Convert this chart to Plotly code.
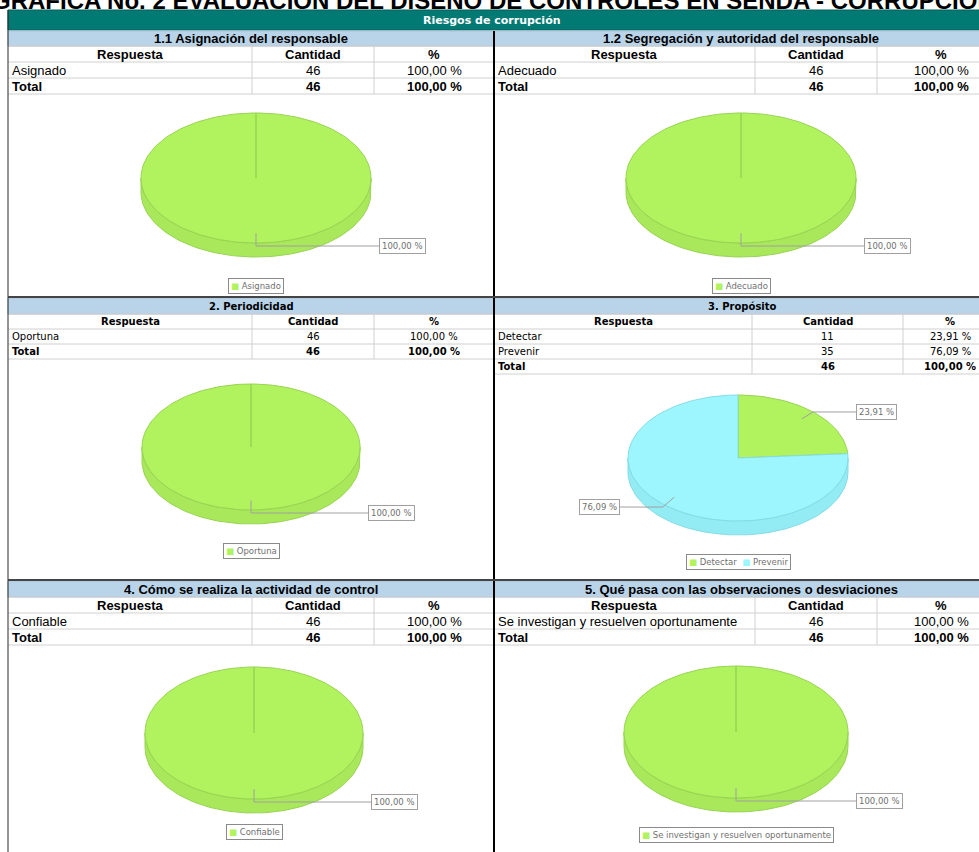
import numpy as np
import plotly.graph_objects as go

W, H = 979, 852

# ---------------- data ----------------
report_title = "GRÁFICA No. 2 EVALUACIÓN DEL DISEÑO DE CONTROLES EN SENDA - CORRUPCIÓN"
group_title = "Riesgos de corrupción"
column_headers = ["Respuesta", "Cantidad", "%"]
total_label = "Total"

title_1_1 = "1.1 Asignación del responsable"
answers_1_1 = ["Asignado"]
counts_1_1 = [46]

title_1_2 = "1.2 Segregación y autoridad del responsable"
answers_1_2 = ["Adecuado"]
counts_1_2 = [46]

title_2 = "2. Periodicidad"
answers_2 = ["Oportuna"]
counts_2 = [46]

title_3 = "3. Propósito"
answers_3 = ["Detectar", "Prevenir"]
counts_3 = [11, 35]

title_4 = "4. Cómo se realiza la actividad de control"
answers_4 = ["Confiable"]
counts_4 = [46]

title_5 = "5. Qué pasa con las observaciones o desviaciones"
answers_5 = ["Se investigan y resuelven oportunamente"]
counts_5 = [46]

# ---------------- styles / layout ----------------
TEAL = "#017A74"
BAND = "#B9D4E8"
GRID = "#D0D0D0"
BORDER = "#2A2A2A"
SLICE_TOP = ["#B1F25F", "#9DF6FD"]
SLICE_SIDE = ["#A8E85A", "#93ECF3"]
SLICE_EDGE = ["#98D452", "#84DCE4"]

FONT_A = dict(family="Liberation Sans, Arial, sans-serif", size=13)
FONT_B = dict(family="DejaVu Sans, Verdana, sans-serif", size=10)

LEFT_COLS = [8, 252, 374, 494]
RIGHT_COLS = [494, 755, 877, 1005]
ROW2R_COLS = [494, 752, 903, 997]

panels = [
    dict(title=title_1_1, answers=answers_1_1, counts=counts_1_1, cols=LEFT_COLS, tx=251,
         band=(31, 46), header=(46, 62), row_h=16, font=FONT_A,
         pie=(256, 178, 115, 65, 14), legend_y=286),
    dict(title=title_1_2, answers=answers_1_2, counts=counts_1_2, cols=RIGHT_COLS, tx=741,
         band=(31, 46), header=(46, 62), row_h=16, font=FONT_A,
         pie=(741, 178, 115, 65, 14), legend_y=286),
    dict(title=title_2, answers=answers_2, counts=counts_2, cols=LEFT_COLS, tx=251,
         band=(298, 314), header=(314, 329), row_h=15, font=FONT_B,
         pie=(251, 447, 109, 63, 14), legend_y=551),
    dict(title=title_3, answers=answers_3, counts=counts_3, cols=ROW2R_COLS, tx=742,
         band=(298, 314), header=(314, 329), row_h=15, font=FONT_B,
         pie=(738, 458, 110, 63, 14), legend_y=562),
    dict(title=title_4, answers=answers_4, counts=counts_4, cols=LEFT_COLS, tx=251,
         band=(581, 597), header=(597, 613), row_h=16, font=FONT_A,
         pie=(254, 733, 109, 66, 14), legend_y=832),
    dict(title=title_5, answers=answers_5, counts=counts_5, cols=RIGHT_COLS, tx=741,
         band=(581, 597), header=(597, 613), row_h=16, font=FONT_A,
         pie=(736, 732, 112, 66, 14), legend_y=835),
]

fig = go.Figure()
shapes = []
annotations = []


def rect(x0, y0, x1, y1, fill, lc=None, lw=0):
    shapes.append(dict(type="rect", xref="x", yref="y", x0=x0, y0=y0, x1=x1, y1=y1,
                       fillcolor=fill, line=dict(color=lc or fill, width=lw), layer="below"))


def line(x0, y0, x1, y1, color, w):
    shapes.append(dict(type="line", xref="x", yref="y", x0=x0, y0=y0, x1=x1, y1=y1,
                       line=dict(color=color, width=w)))


def text(x, y, s, font, xanchor="center", color="#000000", bold=False):
    annotations.append(dict(x=x, y=y, xref="x", yref="y", text=("<b>%s</b>" % s) if bold else s,
                            showarrow=False, xanchor=xanchor, yanchor="middle",
                            font=dict(family=font["family"], size=font["size"], color=color)))


def pct(v, tot):
    return ("%.2f" % (100.0 * v / tot)).replace(".", ",") + " %"


def arc(cx, cy, a, b, t0, t1):
    n = max(3, int(abs(t1 - t0) / 2) + 2)
    th = np.radians(np.linspace(t0, t1, n))
    return cx + a * np.cos(th), cy - b * np.sin(th)


# title (partly cut at the top, as in the reference)
annotations.append(dict(x=-10 / W, y=1.0 - 0.4 / H, xref="paper", yref="paper", text="<b>%s</b>" % report_title,
                        showarrow=False, xanchor="left", yanchor="middle",
                        font=dict(family="Liberation Sans, Arial, sans-serif", size=24, color="#000")))

# group header bar
rect(8, 10, 1000, 30, TEAL, "#0B5E59", 1)
text(492, 20, group_title, dict(family="DejaVu Sans, sans-serif", size=11), color="#FFFFFF", bold=True)

for p in panels:
    cols = p["cols"]
    x0, x1 = cols[0], cols[-1]
    f = p["font"]
    by0, by1 = p["band"]
    rect(x0, by0, x1, by1, BAND, "#A9C4D8", 1)
    text(p["tx"], (by0 + by1) / 2, p["title"], f, bold=True)
    hy0, hy1 = p["header"]
    centers = [(cols[i] + cols[i + 1]) / 2 for i in range(3)]
    for i, h in enumerate(column_headers):
        text(centers[i], (hy0 + hy1) / 2, h, f, bold=True)
    total = sum(p["counts"])
    rows = [(a, str(c), pct(c, total), False) for a, c in zip(p["answers"], p["counts"])]
    rows.append((total_label, str(total), pct(total, total), True))
    y = hy1
    for r in rows:
        yc = y + p["row_h"] / 2
        text(x0 + 2, yc, r[0], f, xanchor="left", bold=r[3])
        text(centers[1], yc, r[1], f, bold=r[3])
        text(centers[2], yc, r[2], f, bold=r[3])
        y += p["row_h"]
    # grid
    for yy in [hy0] + [hy1 + k * p["row_h"] for k in range(len(rows) + 1)]:
        line(x0, yy, x1, yy, GRID, 1)
    for xx in cols[1:3]:
        line(xx, hy0, xx, y, GRID, 1)

    # ---- pseudo 3D pie ----
    cx, cy, a, b, t = p["pie"]
    fr = np.array(p["counts"], dtype=float) / total
    start = 90.0
    spans = []
    for k, v in enumerate(fr):
        hi = start
        lo = start - 360.0 * v
        spans.append((lo, hi))
        start = lo
    # side walls (front half)
    for k, (lo, hi) in enumerate(spans):
        for off in (-360, 0, 360):
            slo, shi = max(lo, -180 + off), min(hi, 0 + off)
            if shi > slo:
                xs, ys = arc(cx, cy, a, b, slo, shi)
                px = list(xs) + list(xs[::-1]) + [xs[0]]
                py = list(ys) + list(ys[::-1] + t) + [ys[0]]
                fig.add_trace(go.Scatter(x=px, y=py, mode="lines", fill="toself",
                                         fillcolor=SLICE_SIDE[k], line=dict(color=SLICE_EDGE[k], width=1),
                                         hoverinfo="skip", showlegend=False))
    # top faces
    for k, (lo, hi) in enumerate(spans):
        xs, ys = arc(cx, cy, a, b, hi, lo)
        px = [cx] + list(xs) + [cx]
        py = [cy] + list(ys) + [cy]
        fig.add_trace(go.Scatter(x=px, y=py, mode="lines", fill="toself",
                                 fillcolor=SLICE_TOP[k], line=dict(color=SLICE_EDGE[k], width=1),
                                 hoverinfo="skip", showlegend=False))
    # labels with leader lines
    for k, (lo, hi) in enumerate(spans):
        m = np.radians((lo + hi) / 2)
        ix, iy = cx + 0.85 * a * np.cos(m), cy - 0.85 * b * np.sin(m)
        ox, oy = cx + a * np.cos(m), cy - b * np.sin(m)
        if np.sin(m) < 0:
            oy += 3
        right = np.cos(m) >= -1e-9
        lx = cx + a + 8 if right else cx - a - 8
        fig.add_trace(go.Scatter(x=[ix, ox, lx], y=[iy, oy, oy], mode="lines",
                                 line=dict(color="#A0A0A0", width=1),
                                 hoverinfo="skip", showlegend=False))
        annotations.append(dict(x=lx, y=oy, xref="x", yref="y", text=pct(p["counts"][k], total),
                                showarrow=False, xanchor="left" if right else "right", yanchor="middle",
                                font=dict(family="DejaVu Sans, sans-serif", size=8.5, color="#707070"),
                                bgcolor="#FFFFFF", bordercolor="#A0A0A0", borderwidth=1, borderpad=2))
    # legend box
    items = ['<span style="color:%s">■</span> %s' % (SLICE_TOP[k], lab) for k, lab in enumerate(p["answers"])]
    annotations.append(dict(x=cx, y=p["legend_y"], xref="x", yref="y", text="  ".join(items),
                            showarrow=False, xanchor="center", yanchor="middle",
                            font=dict(family="DejaVu Sans, sans-serif", size=8.5, color="#707070"),
                            bgcolor="#FFFFFF", bordercolor="#8A8A8A", borderwidth=1, borderpad=2))

# panel borders
line(8, 10, 8, H, BORDER, 1)
line(494, 31, 494, H, "#000000", 2)
line(8, 297, W + 20, 297, "#444444", 2)
line(8, 580, W + 20, 580, "#444444", 2)

fig.update_layout(
    width=W, height=H, margin=dict(l=0, r=0, t=0, b=0),
    paper_bgcolor="white", plot_bgcolor="white",
    xaxis=dict(range=[0, W], visible=False, fixedrange=True),
    yaxis=dict(range=[H, 0], visible=False, fixedrange=True),
    showlegend=False, shapes=shapes, annotations=annotations,
)

fig.write_html("out.html", include_plotlyjs=True, config={"displayModeBar": False, "staticPlot": True},
               post_script="document.body.style.margin='0';document.body.style.overflow='hidden';")
